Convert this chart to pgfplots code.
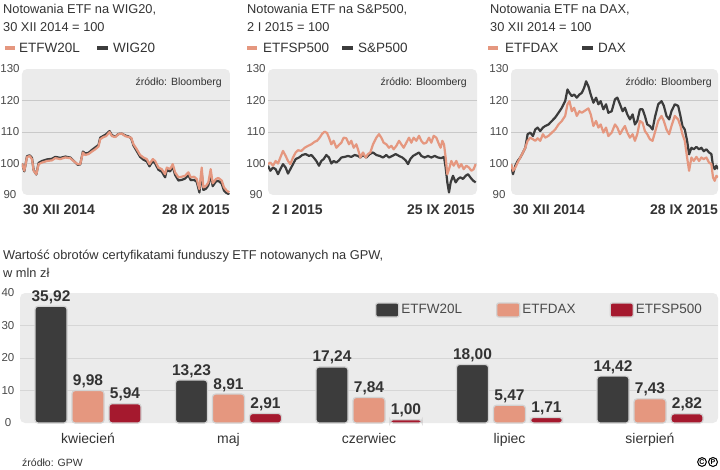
\documentclass[border=0pt]{standalone}
\usepackage{fontspec}
\setmainfont{Liberation Sans}
\usepackage{pgfplots}
\pgfplotsset{compat=1.18}

\definecolor{bgc}{HTML}{EBEBEB}
\definecolor{gridc}{HTML}{C9C9C9}
\definecolor{gridb}{HTML}{D6D6D6}
\definecolor{salm}{HTML}{E5977F}
\definecolor{darkl}{HTML}{3C3C3C}
\definecolor{barred}{HTML}{A5192E}
\definecolor{txtc}{HTML}{333333}
\definecolor{tickc}{HTML}{4A4A4A}
\definecolor{edgec}{HTML}{D2D2D2}

\newcommand\fs[1]{\fontsize{#1}{#1}\selectfont}

\pgfplotsset{
  topax/.style={
    anchor=south west, scale only axis, height=126pt,
    ymin=90, ymax=130, ytick={100,110,120},
    extra y ticks={90,130}, extra y tick style={grid=none},
    ymajorgrids, grid style={line width=0.8pt, gridc},
    xtick=\empty, axis line style={draw=none}, major tick length=0pt,
    axis background/.style={fill=bgc, rounded corners=5pt},
    yticklabel style={font=\fs{11.5}, text=tickc, anchor=center, xshift=-12pt},
    /pgf/number format/assume math mode=true,
    clip mode=individual,
  },
  dline/.style={darkl, line width=2.2pt, line join=round},
  sline/.style={salm, line width=2.2pt, line join=round},
}

\begin{document}
\begin{tikzpicture}
\useasboundingbox (0,0) rectangle (720pt,469pt);

% --- titles and legends of the three small charts
\begin{scope}[every node/.style={inner sep=0pt, text=txtc}]
\node[anchor=base west, font=\fs{12.8}] at (3pt,455pt) {Notowania ETF na WIG20,};
\node[anchor=base west, font=\fs{12.8}] at (3pt,437.3pt) {30 XII 2014 = 100};
\draw[salm, line width=4pt] (5pt,420.5pt) -- (15pt,420.5pt);
\node[anchor=base west, font=\fs{13.5}] at (19pt,416pt) {ETFW20L};
\draw[darkl, line width=4pt] (97pt,420.5pt) -- (108pt,420.5pt);
\node[anchor=base west, font=\fs{13.5}] at (113pt,416pt) {WIG20};

\node[anchor=base west, font=\fs{12.8}] at (247pt,455pt) {Notowania ETF na S\&P500,};
\node[anchor=base west, font=\fs{12.8}] at (247pt,437.3pt) {2 I 2015 = 100};
\draw[salm, line width=4pt] (247pt,420.5pt) -- (257pt,420.5pt);
\node[anchor=base west, font=\fs{13.5}] at (263pt,416pt) {ETFSP500};
\draw[darkl, line width=4pt] (342pt,420.5pt) -- (353pt,420.5pt);
\node[anchor=base west, font=\fs{13.5}] at (358pt,416pt) {S\&P500};

\node[anchor=base west, font=\fs{12.8}] at (490pt,455pt) {Notowania ETF na DAX,};
\node[anchor=base west, font=\fs{12.8}] at (490pt,437.3pt) {30 XII 2014 = 100};
\draw[salm, line width=4pt] (488pt,420.5pt) -- (498pt,420.5pt);
\node[anchor=base west, font=\fs{13.5}] at (505pt,416pt) {ETFDAX};
\draw[darkl, line width=4pt] (582pt,420.5pt) -- (593pt,420.5pt);
\node[anchor=base west, font=\fs{13.5}] at (598pt,416pt) {DAX};

\node[anchor=base west, font=\fs{12.8}] at (3pt,209pt) {Wartość obrotów certyfikatami funduszy ETF notowanych na GPW,};
\node[anchor=base west, font=\fs{12.8}] at (3pt,191pt) {w mln zł};
\node[anchor=base west, font=\fs{10.5}] at (22pt,2.5pt) {źródło: GPW};
\end{scope}

% --- WIG20
\begin{axis}[topax, at={(22pt,274pt)}, width=208pt, xmin=65, xmax=690]
\addplot[dline] coordinates {
(65,100) (72,97.5) (80,102.3) (88,102.6) (95,101.8) (100,97.9) (108,96.5) (115,100.2)
(125,100.8) (140,101.3) (155,101.5) (165,102.1) (180,101.8) (195,102.2) (210,101.9)
(220,100.9) (232,99.6) (240,99.7) (248,103.8) (255,103.2) (265,103.4) (275,104.3)
(285,105.1) (295,105.9) (300,108.2) (310,108.8) (318,109.3) (328,110.3) (335,109)
(345,108.5) (355,109.4) (365,109.5) (375,108.9) (385,108.6) (393,108) (400,105.7)
(410,103.9) (420,102.1) (430,101.2) (440,100.7) (448,99.1) (458,100.7) (465,100)
(475,98) (485,97.4) (495,95.6) (500,97.9) (510,97.5) (518,99) (525,96.4) (535,94.6)
(545,94.8) (555,95.2) (565,96.3) (572,94.7) (582,94.8) (590,94.2) (598,90.8) (605,97)
(610,91.6) (618,92) (625,93.1) (632,96.5) (638,92.8) (648,94.3) (655,94.5) (665,93.6)
(672,91.4) (680,90.6) (688,90.2)
};
\addplot[sline] coordinates {
(65,100) (72,97.7) (80,102) (88,102.4) (95,101.4) (100,97.7) (108,96.6) (115,99.8)
(125,100.3) (140,100.8) (155,101) (165,101.7) (180,101.4) (195,101.9) (210,101.7)
(220,100.8) (232,99.8) (240,99.8) (248,103.5) (255,102.7) (265,103) (275,103.8)
(285,104.5) (295,105.4) (300,107.7) (310,108.4) (318,108.7) (328,110) (335,108.7)
(345,108.4) (355,109.3) (365,109.5) (375,108.7) (385,108.4) (393,108.2) (400,106.1)
(410,104.5) (420,102.7) (430,101.9) (440,101.4) (448,99.8) (458,101.4) (465,100.8)
(475,98.7) (485,98.2) (495,96.6) (500,98.7) (510,98.2) (518,99.8) (525,97.2) (535,95.6)
(545,95.8) (555,96.1) (565,97.2) (572,95.6) (582,95.8) (590,95.1) (598,91.9) (605,98.7)
(610,92.4) (618,92.9) (625,94) (632,98.2) (638,93.7) (648,95.1) (655,95.4) (665,94.6)
(672,92.4) (680,91.4) (688,90.8)
};
\node[anchor=base east, font=\fs{10.5}, text=txtc, inner sep=0pt] at (rel axis cs:1,1) [xshift=-8pt, yshift=-16pt] {źródło: Bloomberg};
\node[anchor=base west, font=\bfseries\fs{14}, text=txtc, inner sep=0pt] at (rel axis cs:0,0) [xshift=1pt, yshift=-20pt] {30 XII 2014};
\node[anchor=base east, font=\bfseries\fs{14}, text=txtc, inner sep=0pt] at (rel axis cs:1,0) [yshift=-20pt] {28 IX 2015};
\end{axis}

% --- S&P500
\begin{axis}[topax, at={(268pt,274pt)}, width=209pt, xmin=85, xmax=712]
\addplot[dline] coordinates {
(85,99.3) (92,97.7) (100,98.7) (108,98.2) (115,96.6) (122,98.2) (130,99.8) (138,98.7)
(145,96.8) (152,98.2) (160,99.8) (168,101.4) (178,101.9) (188,102.7) (198,103)
(208,102.4) (215,102.7) (222,101.9) (230,100.8) (238,99.3) (245,100.8) (252,101.4)
(260,102.7) (268,101.9) (275,100) (282,100.8) (290,100.3) (298,101) (305,101.9)
(315,102.1) (325,102.4) (335,102.1) (345,102.7) (355,102.4) (362,101.9) (370,102.7)
(380,101.9) (390,103) (400,103.5) (410,102.7) (420,102.4) (430,101.9) (440,102.7)
(448,101.9) (458,102.4) (468,103) (478,102.4) (488,101.9) (498,101) (505,99.8)
(512,101.4) (520,102.4) (530,103) (538,103.5) (545,102.4) (555,101.9) (565,102.4)
(575,101.9) (585,102.4) (595,101.9) (605,101.7) (613,102.1) (618,98.7) (623,94)
(628,90.8) (633,94) (640,96.1) (648,94) (655,95.1) (662,95.6) (670,95.1) (678,96.1)
(685,96.6) (692,95.6) (700,94.6) (708,94)
};
\addplot[sline] coordinates {
(85,99.8) (92,100.3) (100,99.3) (108,100.8) (115,100) (122,101.9) (130,104) (138,102.4)
(145,100.8) (152,99.8) (160,101.9) (168,103.5) (175,104.2) (185,104) (195,105)
(205,105.6) (215,106.1) (225,106.9) (232,107.2) (240,108.2) (248,109.5) (255,110.1)
(262,109.7) (268,108.2) (275,106.1) (282,107.2) (290,105) (298,105.9) (305,106.6)
(312,108.2) (320,108) (328,106.1) (335,107.2) (342,105) (350,106.1) (355,104.5)
(362,101.9) (370,103.5) (378,101.9) (385,103) (392,103.5) (400,106.1) (410,108.2)
(418,109.3) (425,108.2) (432,106.6) (440,106.1) (448,105) (455,105.6) (462,104.5)
(470,105.6) (478,107.2) (485,106.1) (492,105) (500,106.6) (508,108.2) (515,106.6)
(522,108.2) (530,107.2) (538,108.8) (545,107.2) (552,106.3) (560,106.6) (568,108.2)
(575,106.6) (582,108.8) (590,108.2) (598,106.1) (603,105) (608,107.2) (613,106.1)
(618,101.9) (623,96.6) (628,98.2) (635,100.8) (642,99.3) (650,100.8) (658,98.7)
(665,99.8) (672,98.2) (680,99.3) (688,98.7) (695,97.7) (702,98.2) (708,99.8)
};
\node[anchor=base east, font=\fs{10.5}, text=txtc, inner sep=0pt] at (rel axis cs:1,1) [xshift=-10pt, yshift=-16pt] {źródło: Bloomberg};
\node[anchor=base west, font=\bfseries\fs{14}, text=txtc, inner sep=0pt] at (rel axis cs:0,0) [xshift=4pt, yshift=-20pt] {2 I 2015};
\node[anchor=base east, font=\bfseries\fs{14}, text=txtc, inner sep=0pt] at (rel axis cs:1,0) [xshift=-2pt, yshift=-20pt] {25 IX 2015};
\end{axis}

% --- DAX
\begin{axis}[topax, at={(511pt,274pt)}, width=207pt, xmin=92, xmax=715]
\addplot[dline] coordinates {
(92,99.8) (98,96.6) (105,99.3) (112,100.8) (120,101.9) (128,103.5) (135,105) (142,109.3)
(150,109.8) (158,108.7) (165,110.8) (172,111.4) (180,110.3) (188,111.4) (195,111.9)
(205,112.4) (215,113.5) (225,114.6) (235,116.1) (245,117.7) (255,119.8) (262,123.5)
(268,122.4) (275,121.4) (282,121.9) (290,120.9) (298,121.9) (305,122.4) (312,124)
(318,126.1) (325,124.5) (332,121.9) (340,119.3) (348,120.9) (355,118.8) (362,119.8)
(370,117.2) (378,118.8) (385,116.1) (395,116.6) (405,120.4) (412,120.9) (420,118.8)
(428,116.6) (435,117.7) (442,115.6) (450,114) (458,115.6) (465,112.4) (472,113.5)
(480,117.2) (488,117.2) (495,115.1) (502,112.4) (510,111.9) (518,110.8) (525,114.6)
(535,118.8) (545,119.8) (552,118.3) (560,115.1) (568,114) (575,116.6) (585,118.8)
(595,118.3) (602,115.1) (608,111.9) (615,110.8) (622,107.2) (628,102.9) (635,105)
(642,104.5) (650,105.3) (658,104.5) (665,105) (672,103.9) (680,104.5) (688,103.5)
(695,103) (700,99.3) (705,98.2) (710,99.3) (715,98.2)
};
\addplot[sline] coordinates {
(92,99.8) (98,97.7) (105,98.7) (112,100.3) (120,101.9) (128,103.5) (135,105) (142,107.2)
(150,108.2) (158,107.7) (165,107.2) (172,108) (180,107.2) (188,109.3) (195,108.2)
(205,108.8) (215,109.8) (225,110.8) (235,112.4) (245,113.5) (255,115.1) (262,118.8)
(268,119.8) (275,116.6) (282,117.7) (290,115.1) (298,116.6) (305,116.1) (315,116.8)
(325,117.5) (332,115.6) (340,111.9) (348,113.5) (355,111.4) (362,112.4) (370,109.8)
(378,111.4) (385,108.7) (395,109.8) (405,112.4) (412,111.4) (420,109.3) (428,110.8)
(435,111.9) (442,109.8) (450,108.2) (458,109.3) (465,107.2) (472,109.3) (480,113.5)
(488,112.9) (495,110.3) (502,109.3) (510,107.7) (518,107.2) (525,109.8) (535,113.5)
(545,115.1) (552,113.5) (560,110.8) (568,109.3) (575,111.9) (585,115.1) (595,114)
(602,111.9) (608,109.3) (615,107.2) (622,101.9) (628,97.7) (635,101.9) (642,100.8)
(650,102.1) (658,100.8) (665,101.9) (672,101.4) (680,101.9) (688,100.3) (695,99.8)
(700,95.6) (705,94.5) (710,96.1) (715,95.6)
};
\node[anchor=base east, font=\fs{10.5}, text=txtc, inner sep=0pt] at (rel axis cs:1,1) [xshift=-6pt, yshift=-16pt] {źródło: Bloomberg};
\node[anchor=base west, font=\bfseries\fs{14}, text=txtc, inner sep=0pt] at (rel axis cs:0,0) [xshift=2pt, yshift=-20pt] {30 XII 2014};
\node[anchor=base east, font=\bfseries\fs{14}, text=txtc, inner sep=0pt] at (rel axis cs:1,0) [yshift=-20pt] {28 IX 2015};
\end{axis}

% --- turnover bars
\begin{axis}[
  anchor=south west, at={(20pt,46pt)}, scale only axis,
  width=698pt, height=130pt,
  ymin=0, ymax=40, xmin=-0.484, xmax=4.484,
  ybar, bar width=32pt,
  ytick={10,20,30}, extra y ticks={0,40}, extra y tick style={grid=none},
  ymajorgrids, grid style={line width=0.8pt, gridb},
  xtick={0,1,2,3,4},
  xticklabels={kwiecień,maj,czerwiec,lipiec,sierpień},
  xticklabel style={font=\fs{14}, text=txtc, anchor=base, yshift=-20pt},
  yticklabel style={font=\fs{11.5}, text=tickc, anchor=center, xshift=-12pt},
  /pgf/number format/assume math mode=true,
  axis line style={draw=none}, major tick length=0pt,
  axis background/.style={fill=bgc, rounded corners=5pt},
  clip=false,
  nodes near coords={\pgfmathprintnumber[fixed, fixed zerofill, precision=2, use comma]{\pgfplotspointmeta}},
  every node near coord/.append style={font=\bfseries\fs{15.5}, text=txtc, anchor=base, yshift=5pt, inner sep=0pt},
  legend columns=3,
  legend image code/.code={\draw[#1, rounded corners=2pt, line width=1.2pt] (0pt,-7pt) rectangle (23pt,7pt);},
  legend style={at={(0.5086,0.869)}, anchor=west, draw=none, fill=none, inner sep=0pt,
    font=\fs{13.5}, text=tickc,
    /tikz/every even column/.append style={column sep=32pt}},
]
\addplot[bar shift=-37pt, fill=darkl, draw=edgec, line width=1.2pt, rounded corners=3pt]
  coordinates {(0,35.92) (1,13.23) (2,17.24) (3,18.00) (4,14.42)};
\addplot[bar shift=0pt, fill=salm, draw=edgec, line width=1.2pt, rounded corners=3pt]
  coordinates {(0,9.98) (1,8.91) (2,7.84) (3,5.47) (4,7.43)};
\addplot[bar shift=37pt, fill=barred, draw=edgec, line width=1.2pt, rounded corners=3pt]
  coordinates {(0,5.94) (1,2.91) (2,1.00) (3,1.71) (4,2.82)};
\legend{ETFW20L, ETFDAX, ETFSP500}
\end{axis}

% --- agency mark
\node[circle, draw=black, line width=1pt, inner sep=0.6pt, font=\bfseries\fs{7}] at (702pt,7pt) {C};
\node[circle, draw=black, line width=1pt, inner sep=0.8pt, font=\bfseries\fs{7}] at (713pt,7pt) {P};
\end{tikzpicture}
\end{document}
